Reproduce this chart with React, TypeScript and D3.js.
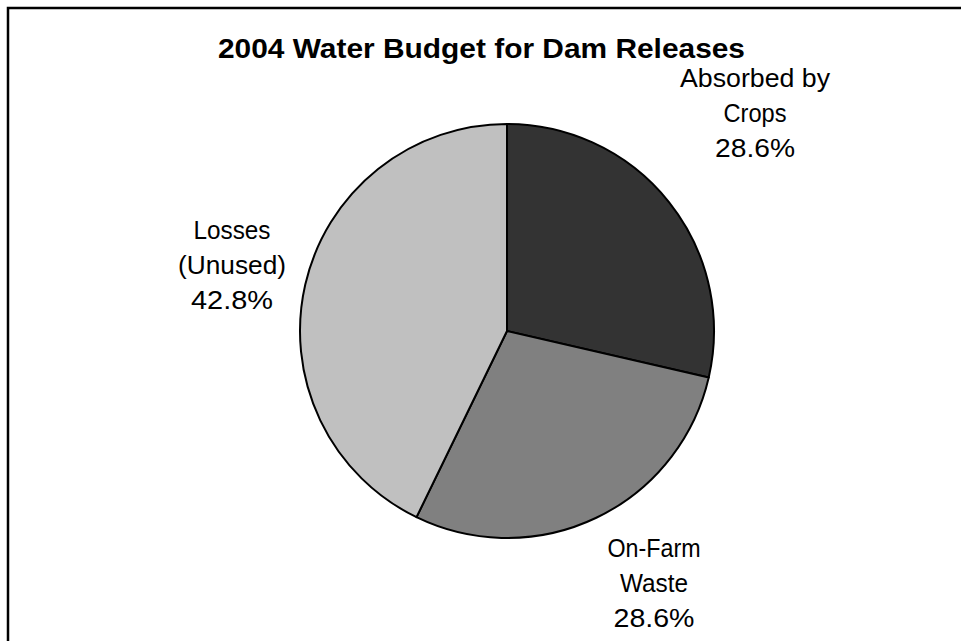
import React from "react";
import * as d3 from "d3";

const categories = ["Absorbed by Crops", "On-Farm Waste", "Losses (Unused)"];
const values = [28.6, 28.6, 42.8];
const labelLines = [
  ["Absorbed by", "Crops", "28.6%"],
  ["On-Farm", "Waste", "28.6%"],
  ["Losses", "(Unused)", "42.8%"],
];
const colors = ["#333333", "#808080", "#c0c0c0"];
const title = "2004 Water Budget for Dam Releases";

export default function App() {
  const W = 961, H = 641;
  const cx = 507, cy = 331, r = 207;
  const pie = d3.pie<number>().sort(null).value((d) => d)(values);
  const arc = d3.arc<d3.PieArcDatum<number>>().innerRadius(0).outerRadius(r);
  const labelPos: [number, number][] = [
    [755, 87],
    [654, 557],
    [232, 239],
  ];
  const widths = [
    [150, 63, 80],
    [93, 68, 81],
    [77, 108, 82],
  ];
  return (
    <svg width={W} height={H} style={{ position: "absolute", left: 0, top: 0, background: "#fff" }}
      fontFamily="'Liberation Sans', Arial, sans-serif">
      <rect x={8} y={8} width={1200} height={900} fill="#fff" stroke="#000" strokeWidth={2.5} />
      <text x={481.5} y={58} textAnchor="middle" fontWeight="bold" fontSize={28}
        textLength={527} lengthAdjust="spacingAndGlyphs">{title}</text>
      <g transform={`translate(${cx},${cy})`}>
        {pie.map((p, i) => (
          <path key={categories[i]} d={arc(p) || ""} fill={colors[i]} stroke="#000" strokeWidth={2} strokeLinejoin="round" />
        ))}
      </g>
      {labelLines.map((lines, i) => (
        <g key={i}>
          {lines.map((l, j) => (
            <text key={j} x={labelPos[i][0]} y={labelPos[i][1] + j * 35} textAnchor="middle" fontSize={26}
              fill="#000" textLength={widths[i][j]} lengthAdjust="spacingAndGlyphs">{l}</text>
          ))}
        </g>
      ))}
    </svg>
  );
}
